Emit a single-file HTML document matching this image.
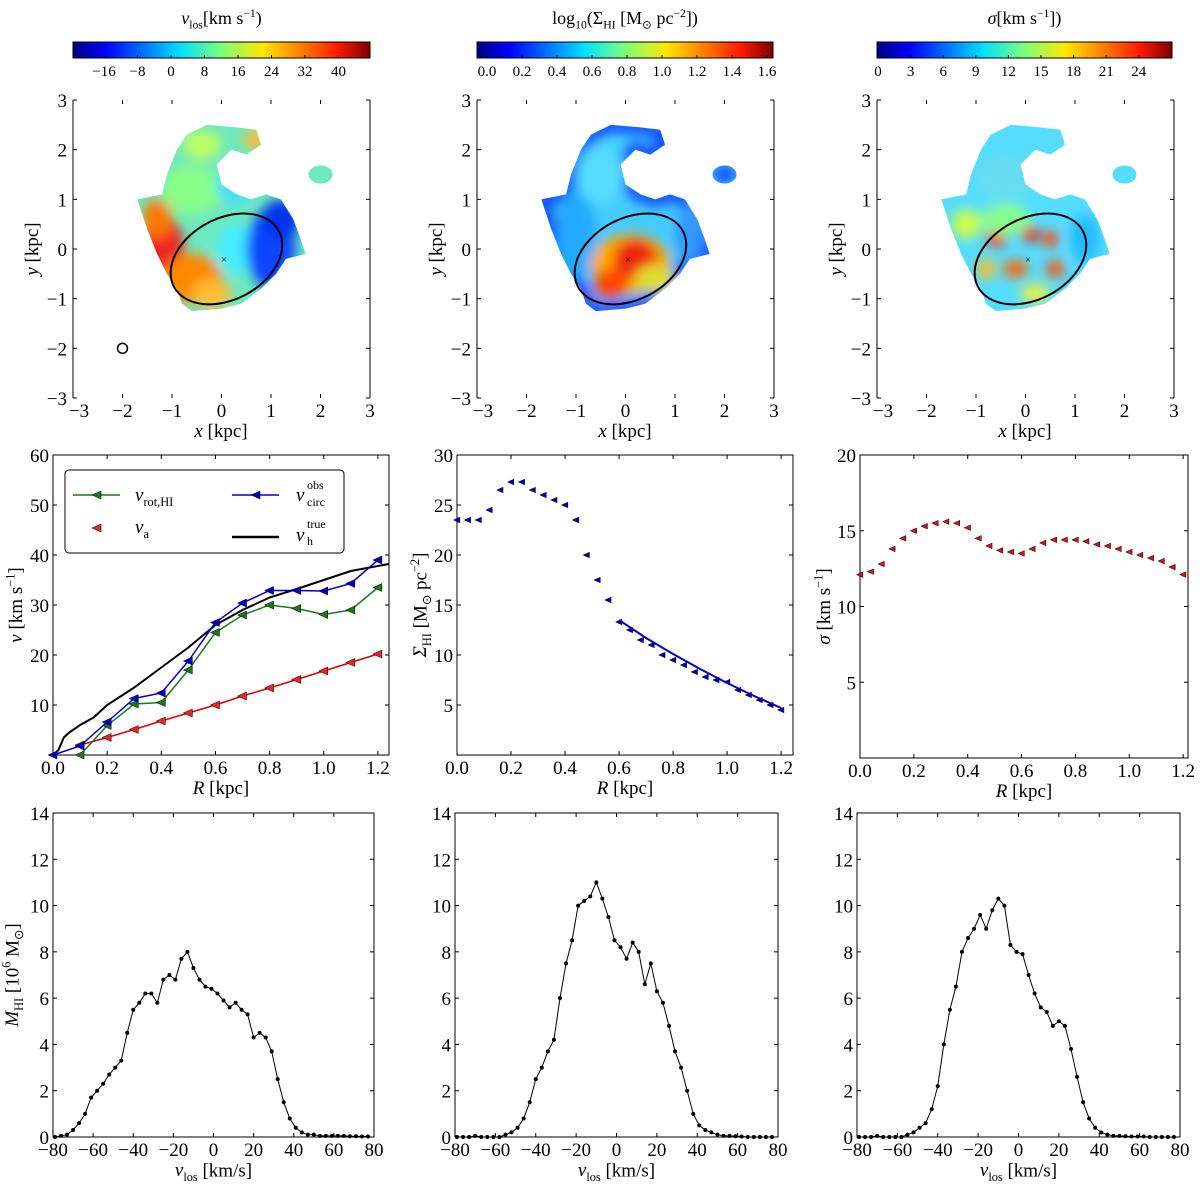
<!DOCTYPE html>
<html><head><meta charset="utf-8"><style>
body{margin:0;background:#fff}
svg text{font-family:"Liberation Serif",serif;fill:#000}
</style></head><body>
<svg id="fig" width="1200" height="1184" viewBox="0 0 1200 1184" xmlns="http://www.w3.org/2000/svg">
<defs>
<linearGradient id="jet" x1="0" x2="1" y1="0" y2="0">
<stop offset="0" stop-color="#00007f"/><stop offset="0.11" stop-color="#0000ff"/><stop offset="0.36" stop-color="#00e0ff"/><stop offset="0.5" stop-color="#7dff7a"/><stop offset="0.64" stop-color="#ffe600"/><stop offset="0.89" stop-color="#ff1a00"/><stop offset="1" stop-color="#7f0000"/>
</linearGradient>
<filter id="blur"><feGaussianBlur stdDeviation="6"/></filter>
<filter id="blur2"><feGaussianBlur stdDeviation="4"/></filter>
</defs>
<g id="root"></g>
</svg>
<script>
// ---- data ----
const rGrid=[0,0.1,0.2,0.3,0.4,0.5,0.6,0.7,0.8,0.9,1.0,1.1,1.2];
const vCirc=[0,1.8,6.6,11.3,12.4,18.8,26.5,30.4,32.9,32.9,32.8,34.3,39];
const rRot=[0.1,0.2,0.3,0.4,0.5,0.6,0.7,0.8,0.9,1.0,1.1,1.2];
const vRot=[0,5.9,10.2,10.5,17,24.5,28,30,29.3,28.1,29,33.5];
const rA=[0.1,0.2,0.3,0.4,0.5,0.6,0.7,0.8,0.9,1.0,1.1,1.2];
const vA=[2,3.5,5.1,6.8,8.4,10,11.8,13.4,15.1,16.8,18.5,20.2];
const rTrue=[0,0.02,0.04,0.06,0.1,0.15,0.2,0.3,0.4,0.5,0.6,0.7,0.8,0.9,1.0,1.1,1.2,1.24];
const vTrue=[0,1,3.5,4.5,6,7.5,10,13.5,17.5,21.5,26,29,31.5,33.2,35,36.8,37.8,38.2];
const rSig=[0,0.04,0.08,0.12,0.16,0.2,0.24,0.28,0.32,0.36,0.4,0.44,0.48,0.52,0.56,0.6,0.64,0.68,0.72,0.76,0.8,0.84,0.88,0.92,0.96,1.0,1.04,1.08,1.12,1.16,1.2];
const sigmaHI=[23.5,23.5,23.5,24.5,26.5,27.3,27.3,26.5,26,25.5,25,23.5,20,17.5,15.5,13.3,12.5,11.5,11,10,9.5,9,8.3,7.8,7.5,7.3,6.5,6,5.5,5,4.5];
const fitR=[0.6,0.7,0.8,0.9,1.0,1.1,1.2];
const fitS=[13.5,11.7,10.1,8.6,7.2,5.9,4.7];
const dispVals=[12.1,12.3,12.8,13.8,14.5,15,15.3,15.5,15.6,15.5,15.2,14.5,14,13.7,13.6,13.5,13.8,14.2,14.4,14.4,14.4,14.3,14.1,14,13.8,13.6,13.4,13.2,13,12.6,12.1];
const vBins=[-79,-76,-73,-70,-67,-64,-61,-58,-55,-52,-49,-46,-43,-40,-37,-34,-31,-28,-25,-22,-19,-16,-13,-10,-7,-4,-1,2,5,8,11,14,17,20,23,26,29,32,35,38,41,44,47,50,53,56,59,62,65,68,71,74,77];
const mass1=[0,0.05,0.1,0.3,0.6,1.0,1.7,2.0,2.3,2.7,3.0,3.3,4.5,5.5,5.8,6.2,6.2,5.8,6.8,7.0,6.8,7.7,8.0,7.3,6.8,6.5,6.4,6.2,5.9,5.6,5.8,5.5,5.3,4.3,4.5,4.3,3.7,2.5,1.5,0.8,0.4,0.2,0.1,0.1,0.05,0.05,0.05,0.05,0.05,0.03,0.03,0.02,0.02];
const mass2=[0,0,0,0.05,0,0,0,0,0.1,0.2,0.4,0.8,1.5,2.5,3.0,3.7,4.2,6.0,7.5,8.5,10.0,10.2,10.4,11.0,10.3,9.5,8.5,8.2,7.7,8.4,8.0,6.6,7.5,6.3,5.8,4.8,3.7,3.0,2.0,1.0,0.5,0.3,0.2,0.1,0.05,0.05,0.03,0.02,0,0,0,0,0];
const mass3=[0,0,0,0.05,0,0,0,0,0.1,0.2,0.4,0.6,1.2,2.2,4.0,5.5,6.5,8.0,8.6,9.0,9.6,9.0,9.8,10.3,10.0,8.3,8.0,7.9,7.0,6.2,5.6,5.4,4.8,5.0,4.8,3.8,2.6,1.5,0.8,0.4,0.2,0.1,0.05,0.05,0.03,0.02,0.02,0.02,0,0,0,0,0];
const cb1Ticks=["\u221216","\u22128","0","8","16","24","32","40"];
const cb2Ticks=["0.0","0.2","0.4","0.6","0.8","1.0","1.2","1.4","1.6"];
const cb3Ticks=["0","3","6","9","12","15","18","21","24"];

const NS="http://www.w3.org/2000/svg";
const root=document.getElementById('root');
function el(tag,attrs,parent,text){const e=document.createElementNS(NS,tag);for(const k in attrs)e.setAttribute(k,attrs[k]);if(text!==undefined)e.textContent=text;(parent||root).appendChild(e);return e;}
function lin(d0,d1,p0,p1){return v=>p0+(v-d0)*(p1-p0)/(d1-d0);}
// parts: array of [text, kind] kind: '', 'i' italic, 'sub', 'sup'
function rich(x,y,parts,size,anchor,name,rot,parent){
  const t=el('text',{x:x,y:y,'font-size':size,'text-anchor':anchor||'middle'},parent);
  parts.forEach(p=>{const s=el('tspan',{},t,p[0]);
    if(p[1]==='i')s.setAttribute('font-style','italic');
    if(p[1]==='sub'){s.setAttribute('font-size',size*0.65);s.setAttribute('dy',size*0.25);}
    if(p[1]==='sup'){s.setAttribute('font-size',size*0.65);s.setAttribute('dy',-size*0.4);}
    if(p[1]==='n'){s.setAttribute('dy',p[2]||0);}
  });
  if(rot)t.setAttribute('transform','rotate('+rot+' '+x+' '+y+')');
  return t;}
function txt(x,y,s,size,anchor,name,rot,parent){const t=el('text',{x:x,y:y,'font-size':size,'text-anchor':anchor||'middle'},parent,s);if(rot)t.setAttribute('transform','rotate('+rot+' '+x+' '+y+')');return t;}

// ---- colorbars ----
function colorbar(x0,x1,ticks,tickPos,title,name){
  const g=el('g',{});
  
  
  el('rect',{x:x0,y:42,width:x1-x0,height:16,fill:'url(#jet)',stroke:'#000','stroke-width':1},g);
  ticks.forEach((t,i)=>{const x=tickPos(i);el('line',{x1:x,x2:x,y1:55,y2:58,stroke:'#000'},g);txt(x,76,t,15,'middle','colorbar-tick-label',0,g);});
  rich((x0+x1)/2,24,title,18,'middle','colorbar-title',0,g);
}
colorbar(73,370,cb1Ticks,i=>104+i*33.5,[["v","i"],["los","sub"],["[km s","n",-4.5],["\u22121","sup"],[")","n",7]],"colorbar-vlos");
colorbar(477,773,cb2Ticks,i=>487+i*35,[["log"],["10","sub"],["(\u03A3","n",-4.5],["HI","sub"],[" [M","n",-4.5],["\u2299","sub"],[" pc","n",-4.5],["\u22122","sup"],["])","n",7]],"colorbar-surface-density");
colorbar(877,1172,cb3Ticks,i=>878+i*32.6,[["\u03C3","i"],["[km s"],["\u22121","sup"],["])","n",7]],"colorbar-dispersion");

// ---- maps ----
const outline=[[-1.7,1.0],[-1.2,1.1],[-1.1,1.5],[-0.9,2.0],[-0.7,2.3],[-0.3,2.5],[0.3,2.45],[0.7,2.4],[0.8,2.1],[0.5,1.9],[0.2,2.0],[-0.1,1.7],[0,1.3],[0.3,1.1],[0.6,1.0],[0.9,1.1],[1.2,1.0],[1.45,0.6],[1.6,0.2],[1.7,-0.1],[1.3,-0.2],[1.1,-0.5],[0.8,-0.8],[0.4,-1.1],[0,-1.2],[-0.6,-1.25],[-0.8,-1.1],[-0.9,-0.8],[-1.1,-0.5],[-1.3,-0.1],[-1.5,0.4]];
function map(x0,name,blobs,base,edge,idx,withBeam){
  const X=lin(-3,3,x0,x0+297), Y=lin(3,-3,100,398);
  const g=el('g',{});
  
  
  const cp=el('clipPath',{id:'clip'+idx},g);
  const pts=outline.map(p=>X(p[0])+','+Y(p[1])).join(' ');
  el('polygon',{points:pts},cp);
  el('ellipse',{cx:X(2.0),cy:Y(1.5),rx:12,ry:9},cp);
  const cg=el('g',{'clip-path':'url(#clip'+idx+')'},g);
  el('rect',{x:x0,y:100,width:297,height:298,fill:base},cg);
  const bg=el('g',{filter:'url(#blur)'},cg);
  if(edge){el('polygon',{points:pts,fill:'none',stroke:edge,'stroke-width':14},bg);el('ellipse',{cx:X(2.0),cy:Y(1.5),rx:12,ry:9,fill:edge},bg);}
  blobs.forEach(b=>el('ellipse',{cx:X(b[0]),cy:Y(b[1]),rx:b[2]*49.5,ry:b[3]*49.5,fill:b[4]},bg));
  const el1=el('ellipse',{cx:X(0.1),cy:Y(-0.2),rx:1.2*49.5,ry:0.82*49.5,fill:'none',stroke:'#000','stroke-width':2,transform:'rotate(-28 '+X(0.1)+' '+Y(-0.2)+')'},g);
  
  
  txt(X(0.05),Y(-0.2)+4,'\u00D7',10,'middle','center-marker',0,g);
  if(withBeam){el('circle',{cx:X(-2),cy:Y(-2),r:5,fill:'none',stroke:'#000','stroke-width':1.5},g);}
  el('line',{x1:x0,x2:x0,y1:100,y2:398,stroke:'#000'},g);
  el('line',{x1:x0+297,x2:x0+297,y1:100,y2:398,stroke:'#000'},g);
  [-3,-2,-1,0,1,2,3].forEach(v=>{
    el('line',{x1:X(v),x2:X(v),y1:398,y2:394,stroke:'#000'},g);
    el('line',{x1:X(v),x2:X(v),y1:100,y2:104,stroke:'#000'},g);
    el('line',{x1:x0,x2:x0+4,y1:Y(v),y2:Y(v),stroke:'#000'},g);
    el('line',{x1:x0+297,x2:x0+293,y1:Y(v),y2:Y(v),stroke:'#000'},g);
    txt(X(v)+(v===-3?6:0),417,(v<0?'\u2212':'')+Math.abs(v),19,'middle','x-tick-label',0,g);
    txt(x0-6,Y(v)+7,(v<0?'\u2212':'')+Math.abs(v),19,'end','y-tick-label',0,g);
  });
  rich(x0+148,437,[["x","i"],[" [kpc]"]],19,'middle','x-axis-title',0,g);
  rich(x0-35,249,[["y","i"],[" [kpc]"]],19,'middle','y-axis-title',-90,g);
}
map(73,'velocity-map',[[-1.2,-0.1,0.45,0.8,'#e22'],[-0.6,-0.6,0.6,0.5,'#f80'],[-1.3,0.6,0.3,0.4,'#f70'],[-0.2,-0.9,0.4,0.3,'#fb3'],[-0.6,1.2,0.6,0.5,'#8f8'],[-0.4,2.1,0.4,0.3,'#bf6'],[0.3,1.3,0.4,0.4,'#4df'],[0.3,0.0,0.4,0.5,'#4ef'],[1.0,0.0,0.5,0.8,'#14f'],[1.2,0.6,0.4,0.4,'#03e'],[0.7,2.2,0.25,0.2,'#fb3']],'#6ee8c0',null,1,true);
map(477,'surface-density-map',[[-1.0,0.3,0.4,0.9,'#2af'],[0.1,-0.3,0.8,0.6,'#fa0'],[0.2,-0.2,0.45,0.4,'#e21'],[-0.3,-0.7,0.35,0.3,'#f40'],[-0.5,1.5,0.5,0.6,'#5df'],[0.6,-0.6,0.4,0.3,'#dd3'],[1.3,0.3,0.3,0.6,'#39f']],'#4cf','#14f',2,false);
map(877,'dispersion-map',[[-0.6,0.2,0.2,0.15,'#f30'],[0.1,0.3,0.18,0.15,'#e10'],[0.5,0.2,0.18,0.15,'#f40'],[-0.2,-0.4,0.25,0.18,'#f60'],[0.6,-0.4,0.18,0.18,'#f50'],[-0.8,-0.4,0.2,0.2,'#fb2'],[-1.2,0.5,0.3,0.3,'#cf4'],[-0.4,1.4,0.6,0.5,'#6de'],[-0.4,0.6,0.5,0.3,'#8f8'],[1.2,0.2,0.3,0.5,'#2bf'],[0.2,-0.9,0.3,0.2,'#ee4']],'#5df',null,3,false);

// ---- generic axes ----
function axes(name,x0,x1,yTop,yBot,xd,yd,xt,yt,xfmt,yfmt,xlabel,ylabel,ylx){
  const g=el('g',{});
  
  
  const X=lin(xd[0],xd[1],x0,x1), Y=lin(yd[0],yd[1],yBot,yTop);
  el('rect',{x:x0,y:yTop,width:x1-x0,height:yBot-yTop,fill:'none',stroke:'#000','stroke-width':1},g);
  xt.forEach(v=>{el('line',{x1:X(v),x2:X(v),y1:yBot,y2:yBot-4,stroke:'#000'},g);el('line',{x1:X(v),x2:X(v),y1:yTop,y2:yTop+4,stroke:'#000'},g);txt(X(v),yBot+19,xfmt(v),19,'middle','x-tick-label',0,g);});
  yt.forEach(v=>{el('line',{x1:x0,x2:x0+4,y1:Y(v),y2:Y(v),stroke:'#000'},g);el('line',{x1:x1,x2:x1-4,y1:Y(v),y2:Y(v),stroke:'#000'},g);txt(x0-4,Y(v)+7,yfmt(v),19,'end','y-tick-label',0,g);});
  rich((x0+x1)/2,yBot+39,xlabel,19,'middle','x-axis-title',0,g);
  if(ylabel)rich(ylx,(yTop+yBot)/2,ylabel,19,'middle','y-axis-title',-90,g);
  return {g,X,Y};
}
function line(g,X,Y,xs,ys,color,w,name){const p=el('polyline',{points:xs.map((x,i)=>X(x)+','+Y(ys[i])).join(' '),fill:'none',stroke:color,'stroke-width':w},g);}
function tri(g,X,Y,xs,ys,color,name,s){xs.forEach((x,i)=>{const cx=X(x),cy=Y(ys[i]);const m=el('polygon',{points:(cx-s)+','+cy+' '+(cx+s*0.8)+','+(cy-s*0.8)+' '+(cx+s*0.8)+','+(cy+s*0.8),fill:color,stroke:'#000','stroke-width':0.5},g);});}
const f1=v=>v.toFixed(1), f0=v=>String(v), fm=v=>(v<0?'\u2212':'')+Math.abs(v);
const Rlab=[["R","i"],[" [kpc]"]];

// rotation curve
let a=axes('rotation-curve-panel',53,389,455,755,[0,1.241],[0,60],[0,0.2,0.4,0.6,0.8,1.0,1.2],[10,20,30,40,50,60],f1,f0,Rlab,[["v","i"],[" [km s"],["\u22121","sup"],["]","n",7]],22);
line(a.g,a.X,a.Y,rTrue,vTrue,'#000',2,'v-true-line');
line(a.g,a.X,a.Y,rA,vA,'#d00',1.5,'v-a-line');tri(a.g,a.X,a.Y,rA,vA,'#e22','v-a-marker',5);
line(a.g,a.X,a.Y,rRot,vRot,'#1a7a1a',1.5,'v-rot-line');tri(a.g,a.X,a.Y,rRot,vRot,'#1a7a1a','v-rot-marker',5);
line(a.g,a.X,a.Y,rGrid,vCirc,'#0000cc',1.5,'v-circ-line');tri(a.g,a.X,a.Y,rGrid,vCirc,'#0000cc','v-circ-marker',5);
const lg=el('g',{},a.g);
el('rect',{x:65,y:470,width:279,height:83,rx:4,fill:'#fff',stroke:'#000'},lg);
el('line',{x1:73,x2:120,y1:495,y2:495,stroke:'#1a7a1a','stroke-width':1.5},lg);tri(lg,v=>v,v=>v,[97],[495],'#1a7a1a','legend-marker',5);
rich(135,501,[["v","i"],["rot,HI","sub"]],19,'start','legend-entry-vrot',0,lg);
tri(lg,v=>v,v=>v,[97],[528],'#e22','legend-marker',5);
rich(135,533,[["v","i"],["a","sub"]],19,'start','legend-entry-va',0,lg);
el('line',{x1:232,x2:279,y1:495,y2:495,stroke:'#0000cc','stroke-width':1.5},lg);tri(lg,v=>v,v=>v,[256],[495],'#0000cc','legend-marker',5);
txt(296,501,'v',19,'start','legend-entry-vcirc',0,lg).setAttribute('font-style','italic');txt(307,489,'obs',12,'start','legend-sup',0,lg);txt(307,506,'circ',12,'start','legend-sub',0,lg);
el('line',{x1:232,x2:279,y1:537,y2:537,stroke:'#000','stroke-width':2.5},lg);
txt(296,541,'v',19,'start','legend-entry-vtrue',0,lg).setAttribute('font-style','italic');txt(307,528,'true',12,'start','legend-sup',0,lg);txt(307,545,'h',12,'start','legend-sub',0,lg);

// surface density
a=axes('surface-density-panel',457,793,455,755,[0,1.244],[0,30],[0,0.2,0.4,0.6,0.8,1.0,1.2],[5,10,15,20,25,30],f1,f0,Rlab,[["\u03A3","i"],["HI","sub"],[" [M","n",-4.5],["\u2299","sub"],[" pc","n",-4.5],["\u22122","sup"],["]","n",7]],426);
line(a.g,a.X,a.Y,fitR,fitS,'#0000cc',2,'fit-line');
tri(a.g,a.X,a.Y,rSig,sigmaHI,'#0000cc','surface-density-marker',3.5);

// dispersion
a=axes('dispersion-panel',860,1188,455,758,[0,1.218],[0,20],[0,0.2,0.4,0.6,0.8,1.0,1.2],[5,10,15,20],f1,f0,Rlab,[["\u03C3","i"],[" [km s"],["\u22121","sup"],["]","n",7]],830);
tri(a.g,a.X,a.Y,rSig,dispVals,'#d11','dispersion-marker',3.5);

// mass histograms
const yt=[0,2,4,6,8,10,12,14], xt=[-80,-60,-40,-20,0,20,40,60,80];
const vlab=[["v","i"],["los","sub"],[" [km/s]","n",-4.5]];
[[53,374,mass1,'mass-profile-1',18],[455,778,mass2,'mass-profile-2',420],[857,1180,mass3,'mass-profile-3',822]].forEach((c,k)=>{
  const b=axes(c[3],c[0],c[1],813,1137,[-80,80],[0,14],xt,yt,fm,f0,vlab,k===0?[["M","i"],["HI","sub"],[" [10","n",-4.5],["6","sup"],[" M","n",7.6],["\u2299","sub"],["]","n",-4.5]]:null,c[4]);
  line(b.g,b.X,b.Y,vBins,c[2],'#000',1,'mass-line');
  vBins.forEach((v,i)=>{const d=el('circle',{cx:b.X(v),cy:b.Y(c[2][i]),r:2,fill:'#000'},b.g);});
});
</script>
</body></html>
